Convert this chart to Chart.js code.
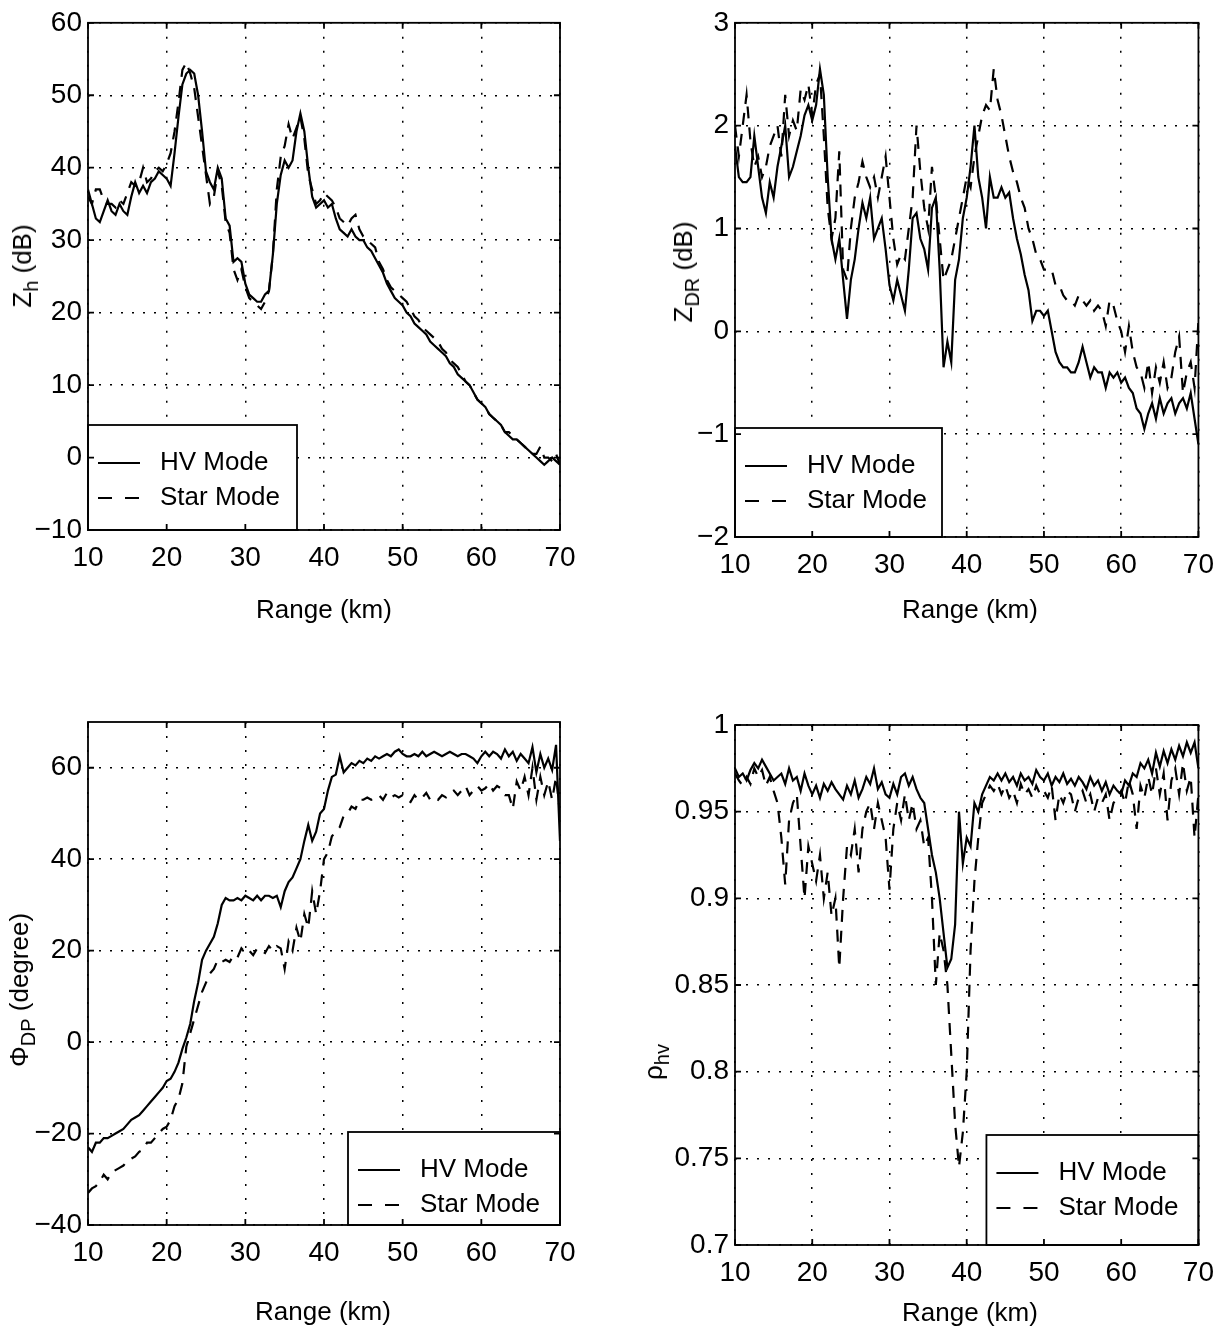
<!DOCTYPE html>
<html>
<head>
<meta charset="utf-8">
<script src="https://cdn.jsdelivr.net/npm/chart.js@4/dist/chart.umd.min.js"></script>
<style>
  body { margin: 0; background: #fff; }
  #page { position: relative; width: 1225px; height: 1333px; overflow: hidden; font-family: 'Liberation Sans', Arial, sans-serif; color: #000; }
  .panel { position: absolute; }
  .xtitle { position: absolute; font-size: 26px; white-space: nowrap; transform: translate(-50%, -50%); }
  .ytitle { position: absolute; font-size: 26px; white-space: nowrap; transform: translate(-50%, -50%) rotate(-90deg); }
  .ytitle sub { font-size: 20px; vertical-align: -7px; }
</style>
</head>
<body>
<div id="page">
  <div class="panel" style="left:0;top:0"><canvas id="chart0" width="612" height="666"></canvas></div>
  <div class="panel" style="left:612px;top:0"><canvas id="chart1" width="613" height="666"></canvas></div>
  <div class="panel" style="left:0;top:666px"><canvas id="chart2" width="612" height="667"></canvas></div>
  <div class="panel" style="left:612px;top:666px"><canvas id="chart3" width="613" height="667"></canvas></div>

  <div class="ytitle" style="left:25px;top:266px">Z<sub>h</sub> (dB)</div>
  <div class="ytitle" style="left:686px;top:272px">Z<sub>DR</sub> (dB)</div>
  <div class="ytitle" style="left:22px;top:990px">&Phi;<sub>DP</sub> (degree)</div>
  <div class="ytitle" style="left:656px;top:1062px">&rho;<sub>hv</sub></div>

  <div class="xtitle" style="left:324px;top:609px">Range (km)</div>
  <div class="xtitle" style="left:970px;top:609px">Range (km)</div>
  <div class="xtitle" style="left:323px;top:1311px">Range (km)</div>
  <div class="xtitle" style="left:970px;top:1312px">Range (km)</div>
</div>

<script>
// range gates every 0.5 km, 10 .. 70
const rangeStart = 10;
const rangeStep = 0.5;
const xTicks = [10, 20, 30, 40, 50, 60, 70];
const seriesNames = ["HV Mode", "Star Mode"];

// Z_h (dB)
const zhTicks = [-10, 0, 10, 20, 30, 40, 50, 60];
const zhHV = [
    37, 35, 33, 32.5, 34, 35.5, 34, 33.5, 35, 34,
    33.5, 36, 38, 36.5, 37.5, 36.5, 38, 38.5, 39.5, 39,
    38.5, 37.5, 42, 47, 51.5, 53, 53.5, 53, 50, 45,
    39.5, 38, 37, 40, 38.5, 33, 32, 27, 27.5, 27,
    24, 22.5, 22, 21.5, 21.5, 22.5, 23, 28, 35, 39,
    41, 40, 41, 45, 47.5, 45, 40, 36, 34.5, 35,
    35.5, 34.5, 35, 33, 31.5, 31, 30.5, 31.5, 30.5, 30,
    30, 29, 28.5, 27.5, 26.5, 25.5, 24, 23, 22, 21.5,
    21, 20, 19.5, 18.5, 18, 17.5, 17, 16, 15.5, 15,
    14.5, 14, 13, 12.5, 11.5, 11, 10.5, 10, 9, 8,
    7.5, 7, 6, 5.5, 5, 4.5, 3.5, 3, 2.5, 2.5,
    2, 1.5, 1, 0.5, 0, -0.5, -1, -0.5, 0, -0.5,
    -1
];
const zhStar = [
    36, 35, 37, 37, 35.5, 35, 35, 34.5, 35.5, 35,
    36.5, 38, 37.5, 38, 40, 38, 38.5, 39.5, 40, 39.5,
    40.5, 42, 45, 49, 53.5, 54.5, 53, 51, 47, 43,
    39, 35, 36, 39.5, 37.5, 32.5, 31, 26, 24.5, 26,
    23.5, 22, 21.5, 21, 20.5, 21.5, 23, 28, 37, 41.5,
    43, 46, 44, 45.5, 47, 44, 39, 37, 35, 35.5,
    36.5, 36, 35.5, 34.5, 33, 32.5, 32, 33, 33.5, 31.5,
    30.5, 30, 29.5, 29, 27, 26, 24.5, 23.5, 23, 22.5,
    22, 21.5, 20.5, 19.5, 19, 18, 17.5, 17, 16.5, 16,
    15, 14.5, 13.5, 13, 12.5, 11.5, 10.5, 10, 9, 8,
    7.5, 7, 6, 5.5, 5, 4.5, 3.5, 3.5, 3, 2.5,
    2, 1.5, 1, 0.5, 0.5, 1.5, 0, 0, -0.5, 0.5,
    -1
];

// Z_DR (dB)
const zdrTicks = [-2, -1, 0, 1, 2, 3];
const zdrHV = [
    1.8, 1.5, 1.45, 1.45, 1.5, 1.9, 1.6, 1.3, 1.15, 1.45,
    1.3, 1.6, 1.8, 2.0, 1.5, 1.6, 1.75, 1.9, 2.1, 2.2,
    2.05, 2.2, 2.55, 2.3, 1.5, 0.9, 0.7, 0.9, 0.5, 0.12,
    0.5, 0.7, 1.0, 1.25, 1.1, 1.3, 0.9, 1.0, 1.1, 0.8,
    0.45, 0.3, 0.5, 0.35, 0.2, 0.6, 1.1, 1.15, 0.9, 0.8,
    0.6, 1.2, 1.3, 0.6, -0.35, -0.1, -0.3, 0.5, 0.7, 1.1,
    1.3, 1.6, 2.0, 1.5, 1.3, 1.0, 1.5, 1.3, 1.3, 1.4,
    1.3, 1.35, 1.1, 0.9, 0.75, 0.55, 0.4, 0.1, 0.2, 0.2,
    0.15, 0.2, 0.0, -0.2, -0.3, -0.35, -0.35, -0.4, -0.4, -0.3,
    -0.15, -0.3, -0.45, -0.35, -0.4, -0.4, -0.55, -0.4, -0.45, -0.4,
    -0.5, -0.45, -0.55, -0.6, -0.75, -0.8, -0.95, -0.8, -0.7, -0.85,
    -0.65, -0.8, -0.7, -0.65, -0.8, -0.7, -0.65, -0.75, -0.6, -0.85,
    -1.1
];
const zdrStar = [
    2.0, 1.7, 2.0, 2.3, 1.85, 1.6, 1.7, 1.5, 1.6, 1.8,
    1.9, 2.0, 1.7, 2.3, 1.9, 2.05, 1.95, 2.35, 2.25, 2.4,
    2.1, 2.4, 2.5, 1.9, 1.2, 0.9, 1.1, 1.75, 0.6, 0.5,
    1.0, 1.3, 1.45, 1.65, 1.5, 1.4, 1.5, 1.3, 1.5, 1.7,
    1.3, 0.9, 0.65, 0.75, 0.7, 1.0, 1.3, 2.0, 1.55, 1.2,
    1.0, 1.6, 1.3, 0.9, 0.5, 0.6, 0.7, 0.9, 1.1, 1.3,
    1.5, 1.4, 1.7, 1.9, 2.1, 2.2, 2.15, 2.55, 2.25, 2.1,
    1.9, 1.7, 1.55, 1.45, 1.3, 1.2, 1.0, 0.9, 0.75, 0.7,
    0.6, 0.6, 0.6, 0.45, 0.45, 0.35, 0.3, 0.3, 0.25, 0.35,
    0.3, 0.25, 0.3, 0.2, 0.25, 0.2, 0.05, 0.3, 0.25, 0.1,
    0.0, -0.2, 0.05, -0.2, -0.35, -0.4, -0.55, -0.3, -0.6, -0.35,
    -0.5, -0.3, -0.55, -0.45, -0.2, -0.05, -0.6, -0.4, -0.3, -0.55,
    0.1
];

// Phi_DP (degree)
const phiTicks = [-40, -20, 0, 20, 40, 60];
const phiHV = [
    -23, -24, -22, -22, -21, -21, -20.5, -20, -19.5, -19,
    -18, -17, -16.5, -16, -15, -14, -13, -12, -11, -10,
    -8.5, -8, -6.5, -4.5, -1.5, 1, 4, 9, 13, 18,
    20, 21.5, 23, 26, 30, 31.5, 31, 31, 31.5, 31,
    32, 31.5, 31, 32, 31, 32, 32, 31.5, 32, 29.5,
    33, 35, 36, 38, 40, 44, 47.5, 44, 46, 50,
    51, 55, 58, 58.5, 62.5, 59, 60, 61, 60.5, 61.5,
    61, 62, 61.5, 62.5, 62, 62.5, 63, 62.5, 63.5, 64,
    63, 62.5, 62.5, 63, 62.5, 63.5, 62.5, 63, 63.5, 63,
    62.5, 63, 63.5, 63, 62.5, 63, 63, 62.5, 62, 61,
    62.5, 63.5, 62.5, 63.5, 63, 62, 64, 62.5, 63.5, 61.5,
    63, 62, 61, 64.5, 59, 63, 60, 62, 59.5, 65,
    44
];
const phiStar = [
    -33, -32, -31.5, -30.5, -29, -30, -28.5, -28, -27.5, -27,
    -26, -25.5, -25, -24, -23.5, -22, -22, -21, -20, -19,
    -18.5, -17, -14, -12.5, -9, -1, 2, 5, 8, 11,
    13, 15, 16, 18, 17.5, 18, 17.5, 19, 18.5, 20.5,
    19.5, 20, 19, 20.5, 20, 19.5, 21, 20, 21, 20.5,
    16, 22, 20, 25, 22, 28, 25, 33, 28, 33,
    40, 41.5, 45, 46, 47, 49.5, 50, 51.5, 51, 53,
    53, 53.5, 53, 53.5, 54, 53, 54.5, 53.5, 54, 53.5,
    54, 53, 52.5, 54, 53, 53.5, 54.5, 53, 53.5, 53,
    54, 53.5, 54.5, 55, 54, 55, 56, 54, 55, 56,
    55, 55.5, 56.5, 55, 56, 55.5, 54, 54, 51, 57,
    55, 58, 54, 60, 53, 58, 54, 57, 53, 58,
    50
];

// rho_hv
const rhoTicks = [0.7, 0.75, 0.8, 0.85, 0.9, 0.95, 1];
const rhoHV = [
    0.975, 0.97, 0.972, 0.968, 0.974, 0.978, 0.975, 0.98, 0.976, 0.972,
    0.968, 0.97, 0.972, 0.966, 0.975, 0.968, 0.97, 0.962, 0.972, 0.965,
    0.96, 0.965, 0.958, 0.966, 0.962, 0.967, 0.963, 0.96, 0.957, 0.965,
    0.96, 0.968, 0.958, 0.963, 0.97, 0.966, 0.975, 0.963, 0.967, 0.96,
    0.958, 0.966, 0.96, 0.97, 0.972, 0.965, 0.97, 0.963, 0.958, 0.955,
    0.94, 0.925, 0.915, 0.9, 0.88, 0.86, 0.865, 0.885, 0.95, 0.92,
    0.935, 0.93, 0.955, 0.95, 0.96, 0.965, 0.97, 0.968, 0.972, 0.968,
    0.972, 0.967, 0.97, 0.965, 0.972, 0.968, 0.97, 0.966, 0.974, 0.97,
    0.968, 0.972, 0.965, 0.97, 0.967, 0.972, 0.966, 0.969, 0.965, 0.97,
    0.967, 0.963, 0.97, 0.965, 0.968, 0.962, 0.967, 0.96, 0.965, 0.962,
    0.96, 0.968, 0.965, 0.972, 0.97, 0.978, 0.975, 0.98, 0.972, 0.984,
    0.976, 0.985, 0.978, 0.986, 0.98, 0.988, 0.982, 0.99, 0.984, 0.99,
    0.975
];
const rhoStar = [
    0.972, 0.968, 0.965, 0.97, 0.966, 0.975, 0.97, 0.974, 0.965, 0.97,
    0.962, 0.955, 0.935, 0.908, 0.945, 0.955, 0.96, 0.93, 0.9, 0.93,
    0.92, 0.91, 0.925, 0.9, 0.915, 0.89, 0.9, 0.86, 0.9, 0.93,
    0.925, 0.94, 0.915, 0.94, 0.95, 0.955, 0.94, 0.955, 0.945, 0.935,
    0.905, 0.94, 0.955, 0.945, 0.96, 0.945, 0.955, 0.94, 0.945, 0.93,
    0.935, 0.9, 0.85, 0.88, 0.87, 0.85, 0.81, 0.77, 0.745, 0.765,
    0.8, 0.87, 0.91, 0.935, 0.955, 0.96, 0.965, 0.962, 0.966, 0.96,
    0.965, 0.958, 0.962, 0.955, 0.966, 0.96, 0.963, 0.958, 0.965, 0.96,
    0.962, 0.958, 0.965, 0.945, 0.96, 0.955, 0.962, 0.96, 0.95, 0.958,
    0.962, 0.955, 0.96, 0.95, 0.958, 0.955, 0.96, 0.945, 0.955, 0.958,
    0.962, 0.955, 0.968, 0.96, 0.94, 0.965, 0.958, 0.97, 0.96, 0.975,
    0.96, 0.972, 0.945, 0.968, 0.975, 0.96, 0.978, 0.962, 0.97, 0.935,
    0.96
];

const FONT = "'Liberation Sans', Arial, sans-serif";

// plot areas in canvas pixels, legend box corner and size
const panels = [
    { canvas: "chart0", w: 612, h: 666, area: { l: 88, r: 560, t: 18, b: 530 },
      ticks: zhTicks, hv: zhHV, star: zhStar, legend: { corner: "bl", w: 209, h: 105 } },
    { canvas: "chart1", w: 613, h: 666, area: { l: 123, r: 593, t: 18, b: 537 },
      ticks: zdrTicks, hv: zdrHV, star: zdrStar, legend: { corner: "bl", w: 207, h: 109 } },
    { canvas: "chart2", w: 612, h: 667, area: { l: 88, r: 560, t: 56, b: 559 }, yMax: 70,
      ticks: phiTicks, hv: phiHV, star: phiStar, legend: { corner: "br", w: 212, h: 93 } },
    { canvas: "chart3", w: 613, h: 667, area: { l: 123, r: 593, t: 59, b: 579 },
      ticks: rhoTicks, hv: rhoHV, star: rhoStar, legend: { corner: "br", w: 212, h: 110 } },
];

function toPoints(values) {
    return values.map((v, i) => ({ x: rangeStart + i * rangeStep, y: v }));
}

function fmtTick(v) {
    return String(+v.toFixed(2)).replace("-", "\u2212");
}

// box around the plot with small inward ticks (matlab style)
const framePlugin = {
    id: "frame",
    afterDraw(chart) {
        const { ctx, chartArea: a, scales } = chart;
        ctx.save();
        ctx.strokeStyle = "#000";
        ctx.lineWidth = 1.8;
        ctx.setLineDash([]);
        ctx.strokeRect(a.left, a.top, a.right - a.left, a.bottom - a.top);
        const t = 6;
        ctx.beginPath();
        scales.x.ticks.forEach(tk => {
            const x = scales.x.getPixelForValue(tk.value);
            ctx.moveTo(x, a.bottom); ctx.lineTo(x, a.bottom - t);
            ctx.moveTo(x, a.top); ctx.lineTo(x, a.top + t);
        });
        scales.y.ticks.forEach(tk => {
            const y = scales.y.getPixelForValue(tk.value);
            ctx.moveTo(a.left, y); ctx.lineTo(a.left + t, y);
            ctx.moveTo(a.right, y); ctx.lineTo(a.right - t, y);
        });
        ctx.stroke();
        ctx.restore();
    }
};

// legend drawn as a boxed inset in a corner of the plot
const boxLegendPlugin = {
    id: "boxLegend",
    afterDatasetsDraw(chart, args, opts) {
        const { ctx, chartArea: a } = chart;
        const x0 = opts.corner === "bl" ? a.left : a.right - opts.w;
        const y0 = a.bottom - opts.h;
        ctx.save();
        ctx.fillStyle = "#fff";
        ctx.fillRect(x0, y0, opts.w, opts.h);
        ctx.strokeStyle = "#000";
        ctx.lineWidth = 1.8;
        ctx.strokeRect(x0, y0, opts.w, opts.h);
        const rows = [38, 73];
        chart.data.datasets.forEach((ds, i) => {
            const y = y0 + rows[i];
            ctx.beginPath();
            ctx.lineWidth = 2.2;
            ctx.setLineDash(ds.borderDash ? [14, 13] : []);
            ctx.moveTo(x0 + 10, y);
            ctx.lineTo(x0 + 52, y);
            ctx.stroke();
            ctx.setLineDash([]);
            ctx.fillStyle = "#000";
            ctx.font = "26px " + FONT;
            ctx.textBaseline = "middle";
            ctx.fillText(ds.label, x0 + 72, y);
        });
        ctx.restore();
    }
};

window.charts = [];
function createCharts() {
    panels.forEach(p => {
        const yAxisW = 60;
        const xAxisH = 44;
        const ctx = document.getElementById(p.canvas).getContext("2d");
        const chart = new Chart(ctx, {
            type: "line",
            data: {
                datasets: [
                    {
                        label: seriesNames[0],
                        data: toPoints(p.hv),
                        borderColor: "#000",
                        borderWidth: 2.2,
                        pointRadius: 0,
                        tension: 0,
                    },
                    {
                        label: seriesNames[1],
                        data: toPoints(p.star),
                        borderColor: "#000",
                        borderWidth: 2.2,
                        borderDash: [12, 9],
                        pointRadius: 0,
                        tension: 0,
                    },
                ],
            },
            options: {
                responsive: false,
                animation: false,
                layout: {
                    padding: {
                        left: p.area.l - yAxisW,
                        right: p.w - p.area.r,
                        top: p.area.t,
                        bottom: p.h - p.area.b - xAxisH,
                    },
                },
                scales: {
                    x: {
                        type: "linear",
                        min: 10,
                        max: 70,
                        afterFit: s => { s.height = xAxisH; },
                        afterBuildTicks: s => { s.ticks = xTicks.map(v => ({ value: v })); },
                        ticks: {
                            color: "#000",
                            font: { family: FONT, size: 28 },
                            padding: 11,
                            maxRotation: 0,
                            callback: v => fmtTick(v),
                        },
                        grid: { color: "#000", lineWidth: 1.5, drawTicks: false },
                        border: { display: false, dash: [2, 12] },
                    },
                    y: {
                        type: "linear",
                        min: p.ticks[0],
                        max: p.yMax !== undefined ? p.yMax : p.ticks[p.ticks.length - 1],
                        afterFit: s => { s.width = yAxisW; },
                        afterBuildTicks: s => { s.ticks = p.ticks.map(v => ({ value: v })); },
                        ticks: {
                            color: "#000",
                            font: { family: FONT, size: 28 },
                            padding: 6,
                            callback: v => fmtTick(v),
                        },
                        grid: { color: "#000", lineWidth: 1.5, drawTicks: false },
                        border: { display: false, dash: [2, 9] },
                    },
                },
                plugins: {
                    legend: { display: false },
                    tooltip: { enabled: false },
                    boxLegend: p.legend,
                },
            },
            plugins: [boxLegendPlugin, framePlugin],
        });
        window.charts.push(chart);
    });
}

createCharts();
</script>
</body>
</html>
